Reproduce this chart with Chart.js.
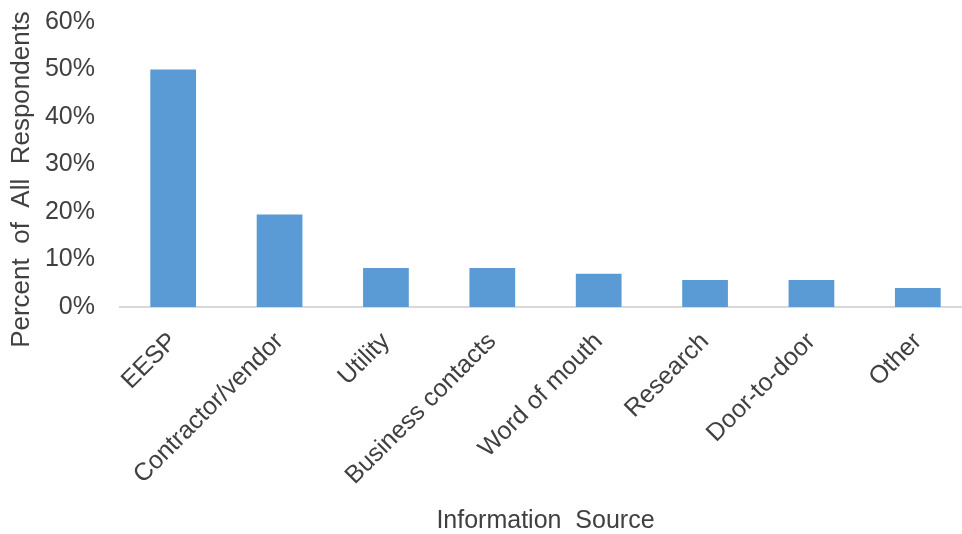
<!DOCTYPE html>
<html>
<head>
<meta charset="utf-8">
<script src="https://cdn.jsdelivr.net/npm/chart.js@4.4.1/dist/chart.umd.min.js"></script>
<style>
  html, body { margin: 0; padding: 0; background: #fff; overflow: hidden; }
  #wrap { width: 972px; height: 534px; }
</style>
</head>
<body>
<div id="wrap"><canvas id="chart"></canvas></div>
<script>
const sources = ["EESP", "Contractor/vendor", "Utility", "Business contacts", "Word of mouth", "Research", "Door-to-door", "Other"];
const percents = [50, 19.5, 8.2, 8.2, 7, 5.7, 5.7, 4];
const yTicks = [0, 10, 20, 30, 40, 50, 60];
const yTitle = "Percent  of  All  Respondents";

const FONT = "'Liberation Sans', Arial, sans-serif";
const textColor = "#404040";

// y title sits a little below the middle of the plot, so draw it by hand
const yTitlePlugin = {
  id: "yTitle",
  afterDraw(chart) {
    const { ctx, chartArea } = chart;
    ctx.save();
    ctx.font = "26px " + FONT;
    ctx.fillStyle = textColor;
    ctx.textAlign = "center";
    ctx.textBaseline = "middle";
    ctx.translate(22, (chartArea.top + chartArea.bottom) / 2 + 15);
    ctx.rotate(-Math.PI / 2);
    ctx.fillText(yTitle, 0, 0);
    ctx.restore();
  }
};

new Chart(document.getElementById("chart"), {
  type: "bar",
  data: {
    labels: sources,
    datasets: [{
      data: percents,
      backgroundColor: "#5b9bd5",
      borderWidth: 0,
      barPercentage: 0.43,
      categoryPercentage: 1
    }]
  },
  options: {
    responsive: true,
    maintainAspectRatio: false,
    animation: false,
    layout: { padding: { top: 22, right: 1, left: 0, bottom: 0 } },
    plugins: { legend: { display: false }, tooltip: { enabled: false } },
    scales: {
      x: {
        grid: { display: false },
        border: { display: true, color: "#d9d9d9", width: 2 },
        ticks: {
          color: textColor,
          font: { family: FONT, size: 25 },
          minRotation: 45,
          maxRotation: 45,
          padding: 12
        },
        title: {
          display: true,
          text: "Information  Source",
          color: textColor,
          font: { family: FONT, size: 25 },
          padding: { top: 0, bottom: -2 }
        },
        afterFit: s => { s.height = 227; }
      },
      y: {
        min: 0,
        max: 60,
        grid: { display: false },
        border: { display: false },
        afterBuildTicks: s => { s.ticks = yTicks.map(v => ({ value: v })); },
        ticks: {
          color: textColor,
          font: { family: FONT, size: 25 },
          padding: 17,
          callback: v => v + "%"
        },
        afterFit: s => { s.width = 120; s.paddingTop = 0; }
      }
    }
  },
  plugins: [yTitlePlugin]
});
</script>
</body>
</html>
